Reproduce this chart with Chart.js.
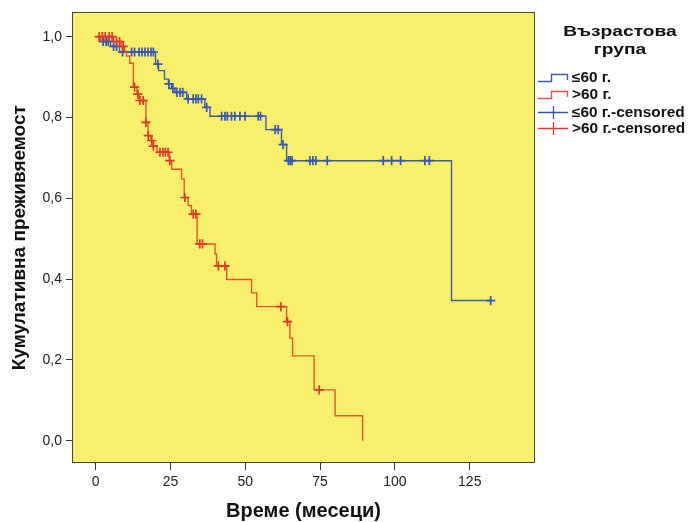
<!DOCTYPE html>
<html><head><meta charset="utf-8">
<script src="https://cdn.jsdelivr.net/npm/chart.js@4"></script>
<style>
html,body{margin:0;padding:0;background:#fff;overflow:hidden;}
#wrap{position:relative;width:691px;height:522px;overflow:hidden;}
#c{position:absolute;left:0;top:0;}
#legend{position:absolute;left:0;top:0;width:691px;height:522px;font-family:'Liberation Sans',Arial,sans-serif;color:#111;pointer-events:none;}
.lt{position:absolute;left:536px;width:168px;text-align:center;font-weight:bold;font-size:15px;line-height:18px;top:22px;transform:scaleX(1.28);transform-origin:84px 0;}
.row{position:absolute;left:537px;height:18px;display:flex;align-items:center;font-weight:bold;font-size:14px;white-space:nowrap;}
.row svg{margin-right:3px;flex:none;}
.row span{display:inline-block;transform:scaleX(1.1);transform-origin:0 50%;}
</style></head>
<body>
<div id="wrap">
<canvas id="c" width="691" height="522"></canvas>
<div id="legend"></div>
</div>
<script>
// ---- data ----
const xTicks = [0, 25, 50, 75, 100, 125];
const yTicks = [0, 0.2, 0.4, 0.6, 0.8, 1.0];
const yTickLabels = ['0,0', '0,2', '0,4', '0,6', '0,8', '1,0'];
const legendTitle = ['Възрастова', 'група'];
const groupNames = ['≤60 г.', '>60 г.'];
const censoredSuffix = '-censored';

// ≤60 г. – step times (months) and cumulative survival
const youngTimes = [0, 1.5, 5, 8, 20, 21, 23, 24.3, 25.4, 26.5, 30.4, 36.5, 38.2, 56.9, 62.1, 63.8, 118.9, 132];
const youngSurv  = [1.0, 0.988, 0.976, 0.962, 0.932, 0.916, 0.895, 0.883, 0.872, 0.862, 0.846, 0.825, 0.803, 0.770, 0.733, 0.693, 0.347, 0.347];
const youngCensored = [2.5, 3.5, 4.2, 6, 7, 9, 12, 13, 14.5, 15.5, 16.5, 17.5, 18.5, 19.3, 20.8, 24.5, 25.8, 27.1, 28.2, 29.1,
  30.9, 32.6, 33.5, 34.3, 35.4, 37.1, 42.1, 43.2, 44, 45.4, 46.5, 48.2, 49.9, 54.3, 55.1, 60, 61, 62.6,
  64.4, 65, 65.6, 71.6, 72.6, 73.6, 77.4, 96.1, 98.9, 101.9, 110, 111.5, 132];

// >60 г.
const oldTimes = [0, 6, 8.5, 9.7, 10.3, 11.4, 12.6, 13.8, 14.6, 16.8, 17.5, 18.5, 19.2, 20.5, 24.6, 25.4, 28.7, 29.6, 30.9, 32.0,
  33.9, 39.9, 40.4, 43.8, 52.1, 53.8, 63.8, 64.9, 65.8, 73.0, 80.0, 89.2];
const oldSurv = [1.0, 0.988, 0.976, 0.964, 0.952, 0.934, 0.875, 0.858, 0.842, 0.788, 0.755, 0.743, 0.729, 0.714, 0.693, 0.672, 0.648, 0.602, 0.582, 0.561,
  0.487, 0.462, 0.433, 0.399, 0.366, 0.332, 0.295, 0.254, 0.210, 0.126, 0.062, 0.0];
const oldCensored = [1.2, 2.2, 3.2, 4.5, 5.5, 7, 8, 9.2, 13, 14.1, 14.8, 15.9, 16.8, 17.6, 18.7, 19.3, 21.5, 22.5, 23.3, 24.2,
  24.8, 29.8, 32.6, 33.5, 34.8, 35.7, 41, 43.2, 61.9, 64.1, 74.7];

// ---- colours ----
const blueLine = '#3f5b9f', blueMark = '#3556b8';
const redLine = '#e4552c', redMark = '#e8352a';
const plotBg = '#f8f06b';

function survAt(times, surv, t) {
  let s = surv[0];
  for (let i = 0; i < times.length; i++) if (times[i] <= t) s = surv[i];
  return s;
}
const pts = (ts, ss) => ts.map((t, i) => ({x: t, y: ss[i]}));
const cens = (cs, ts, ss) => cs.map(t => ({x: t, y: survAt(ts, ss, t)}));

const FONT = "'Liberation Sans', Arial, sans-serif";

const bgPlugin = {
  id: 'bg',
  beforeDraw(chart) {
    const {ctx, chartArea: a} = chart;
    ctx.save();
    ctx.fillStyle = plotBg;
    ctx.fillRect(a.left, a.top, a.right - a.left, a.bottom - a.top);
    ctx.restore();
  },
  afterDraw(chart) {
    const {ctx, chartArea: a} = chart;
    ctx.save();
    ctx.strokeStyle = '#444';
    ctx.lineWidth = 1;
    ctx.strokeRect(Math.round(a.left) + 0.5, Math.round(a.top) + 0.5, Math.round(a.right - a.left) - 1, Math.round(a.bottom - a.top) - 1);
    ctx.restore();
  }
};

new Chart(document.getElementById('c'), {
  type: 'scatter',
  data: {
    datasets: [
      {label: groupNames[0], data: pts(youngTimes, youngSurv), showLine: true, stepped: 'before',
       borderColor: blueLine, borderWidth: 1.4, pointRadius: 0, order: 3},
      {label: groupNames[0] + censoredSuffix, data: cens(youngCensored, youngTimes, youngSurv), showLine: false,
       pointStyle: 'cross', pointRadius: 4.6, borderColor: blueMark, backgroundColor: blueMark, pointBorderWidth: 1.7, order: 2},
      {label: groupNames[1], data: pts(oldTimes, oldSurv), showLine: true, stepped: 'before',
       borderColor: redLine, borderWidth: 1.4, pointRadius: 0, order: 1},
      {label: groupNames[1] + censoredSuffix, data: cens(oldCensored, oldTimes, oldSurv), showLine: false,
       pointStyle: 'cross', pointRadius: 4.6, borderColor: redMark, backgroundColor: redMark, pointBorderWidth: 1.7, order: 0}
    ]
  },
  options: {
    responsive: false,
    animation: false,
    events: [],
    layout: {padding: {left: 0, right: 156, top: 12, bottom: 0}},
    plugins: {legend: {display: false}, tooltip: {enabled: false}},
    scales: {
      x: {
        type: 'linear', min: -7.9, max: 146.8,
        afterBuildTicks: s => { s.ticks = xTicks.map(v => ({value: v})); },
        afterFit: s => { s.height = 59; },
        ticks: {autoSkip: false, maxRotation: 0, padding: 4, color: '#222', font: {family: FONT, size: 14}},
        grid: {display: true, drawOnChartArea: false, drawTicks: true, tickLength: 7, color: '#333', lineWidth: 1},
        border: {display: false},
        title: {display: true, text: 'Време (месеци)', color: '#111', font: {family: FONT, size: 20, weight: 'bold'}, padding: {top: 0, bottom: -1}}
      },
      y: {
        type: 'linear', min: -0.055, max: 1.06,
        afterBuildTicks: s => { s.ticks = yTicks.map(v => ({value: v})); },
        afterFit: s => { s.width = 72; },
        ticks: {autoSkip: false, padding: 4, color: '#222', font: {family: FONT, size: 14},
          callback: v => { const i = yTicks.findIndex(t => Math.abs(t - v) < 1e-9); return i >= 0 ? yTickLabels[i] : ''; }},
        grid: {display: true, drawOnChartArea: false, drawTicks: true, tickLength: 6, color: '#333', lineWidth: 1},
        border: {display: false},
        title: {display: true, text: 'Кумулативна преживяемост', color: '#111', font: {family: FONT, size: 19, weight: 'bold'}, padding: {top: 8, bottom: 0}}
      }
    }
  },
  plugins: [bgPlugin]
});

// ---- legend (HTML) ----
const lg = document.getElementById('legend');
const t = document.createElement('div');
t.className = 'lt';
t.innerHTML = legendTitle.join('<br>');
lg.appendChild(t);
const stepIcon = c => `<svg width="32" height="14"><path d="M1 11.5 H14.5 V4.5 H30.5 V10" fill="none" stroke="${c}" stroke-width="1.4"/></svg>`;
const crossIcon = c => `<svg width="32" height="14"><path d="M1 7.5 H31 M16.5 1 V14" fill="none" stroke="${c}" stroke-width="1.3"/></svg>`;
const rows = [
  {icon: stepIcon(blueLine), text: groupNames[0], top: 68},
  {icon: stepIcon('#e8505a'), text: groupNames[1], top: 85},
  {icon: crossIcon(blueMark), text: groupNames[0] + censoredSuffix, top: 103},
  {icon: crossIcon(redMark), text: groupNames[1] + censoredSuffix, top: 119}
];
rows.forEach(r => {
  const d = document.createElement('div');
  d.className = 'row';
  d.style.top = r.top + 'px';
  d.innerHTML = r.icon + '<span>' + r.text + '</span>';
  lg.appendChild(d);
});
</script>
</body></html>
